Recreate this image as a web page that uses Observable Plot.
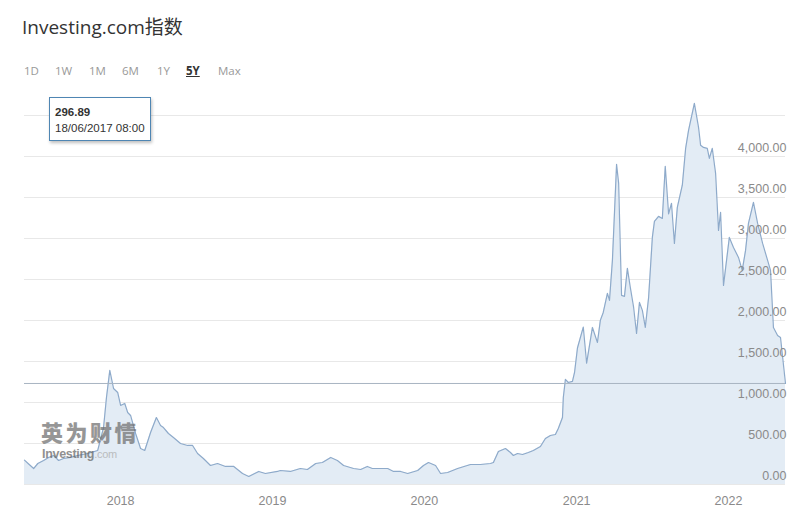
<!DOCTYPE html>
<html>
<head>
<meta charset="utf-8">
<script src="https://cdn.jsdelivr.net/npm/d3@7"></script>
<script src="https://cdn.jsdelivr.net/npm/@observablehq/plot@0.6"></script>
<style>
  html, body { margin: 0; padding: 0; background: #fff; width: 800px; height: 530px; overflow: hidden; }
  #wrap { position: relative; width: 800px; height: 530px; font-family: "Liberation Sans", Arial, sans-serif; }
  #title { position: absolute; left: 22px; top: 12px; font-family: "Open Sans", "Noto Sans CJK SC", sans-serif; font-size: 19px; color: #333; }
  #ranges { position: absolute; left: 24px; top: 63px; font-family: "Open Sans", sans-serif; font-size: 11.5px; color: #999; }
  #ranges span { position: absolute; white-space: nowrap; }
  #ranges span.on { color: #333; font-weight: 700; text-decoration: underline; }
  #chart { position: absolute; left: 0; top: 90px; }
  #tip { position: absolute; left: 49px; top: 97px; width: 102px; height: 44px; border: 1px solid #4f86b3; background: #fff; box-shadow: 1px 2px 3px rgba(0,0,0,0.25); font-size: 11.5px; color: #333; box-sizing: border-box; padding: 6px 0 0 5px; line-height: 16px; }
  #tip b { font-weight: 700; }
  #wm { position: absolute; left: 41px; top: 0; opacity: 0.72; pointer-events: none; }
  #wm .cn { position: absolute; left: 0; top: 420px; white-space: nowrap; font-family: "Noto Sans CJK SC", sans-serif; font-weight: 900; font-size: 22px; color: #6f6f6f; letter-spacing: 2.5px; line-height: 22px; }
  #wm .en { position: absolute; left: 1px; top: 448px; white-space: nowrap; font-family: "Liberation Sans", Arial, sans-serif; font-weight: 700; font-size: 12.5px; color: #666; line-height: 13px; letter-spacing: -0.3px; }
  #wm .en span { color: #aaa; font-weight: 400; font-size: 11px; }
</style>
</head>
<body>
<div id="wrap">
  <div id="title">Investing.com指数</div>
  <div id="ranges"></div>
  <div id="chart"></div>
  <div id="wm"><div class="cn">英为财情</div><div class="en">Investing<span>.com</span></div></div>
  <div id="tip"><b>296.89</b><br>18/06/2017 08:00</div>
</div>
<script>
// ---- data ----
const dates = [
  "2017-05-15","2017-05-25","2017-06-06","2017-06-16","2017-06-30","2017-07-12","2017-07-24","2017-08-05","2017-08-17","2017-09-03",
  "2017-09-20","2017-10-14","2017-11-07","2017-11-21","2017-11-28","2017-12-06","2017-12-15","2017-12-25","2018-01-01","2018-01-11",
  "2018-01-18","2018-01-25","2018-02-06","2018-02-18","2018-02-28","2018-03-14","2018-03-28","2018-04-07","2018-04-14","2018-04-26",
  "2018-05-08","2018-05-25","2018-06-11","2018-06-23","2018-07-05","2018-07-19","2018-08-05","2018-08-22","2018-09-10","2018-09-30",
  "2018-10-21","2018-11-05","2018-11-29","2018-12-15","2019-01-13","2019-01-20","2019-02-13","2019-03-09","2019-03-26","2019-04-15",
  "2019-05-01","2019-05-21","2019-06-06","2019-06-21","2019-07-15","2019-08-01","2019-08-17","2019-08-29","2019-09-18","2019-10-05",
  "2019-10-19","2019-11-05","2019-11-22","2019-12-16","2019-12-30","2020-01-11","2020-01-28","2020-02-09","2020-02-26","2020-03-21",
  "2020-04-21","2020-05-15","2020-06-08","2020-06-15","2020-06-27","2020-07-14","2020-07-26","2020-08-02","2020-08-12","2020-08-24",
  "2020-09-07","2020-09-19","2020-10-06","2020-10-18","2020-10-30","2020-11-11","2020-11-18","2020-11-28","2020-11-30","2020-12-05",
  "2020-12-12","2020-12-22","2020-12-27","2021-01-03","2021-01-17","2021-01-25","2021-02-08","2021-02-20","2021-02-27","2021-03-06",
  "2021-03-16","2021-03-21","2021-03-28","2021-04-07","2021-04-12","2021-04-19","2021-04-26","2021-05-03","2021-05-10","2021-05-18",
  "2021-05-25","2021-06-01","2021-06-08","2021-06-15","2021-06-23","2021-07-02","2021-07-07","2021-07-17","2021-07-26","2021-08-02",
  "2021-08-10","2021-08-17","2021-08-24","2021-08-31","2021-09-12","2021-09-20","2021-09-27","2021-10-11","2021-10-21","2021-10-26",
  "2021-11-02","2021-11-11","2021-11-16","2021-11-23","2021-12-01","2021-12-08","2021-12-13","2021-12-20","2022-01-03","2022-01-13",
  "2022-01-25","2022-02-03","2022-02-11","2022-02-18","2022-03-02","2022-03-12","2022-03-24","2022-04-05","2022-04-12","2022-04-19",
  "2022-04-29","2022-05-06","2022-05-18"
];
const values = [
  297, 250, 195, 256, 293, 330, 354, 293, 317, 330,
  354, 378, 415, 695, 1061, 1391, 1171, 1122, 964, 988,
  878, 842, 622, 439, 415, 634, 817, 720, 695, 622,
  573, 500, 476, 476, 378, 317, 232, 256, 220, 220,
  134, 98, 159, 134, 159, 171, 159, 195, 183, 256,
  268, 330, 293, 232, 195, 183, 220, 195, 195, 195,
  159, 159, 134, 171, 232, 268, 232, 134, 146, 195,
  244, 244, 256, 268, 403, 439, 390, 354, 378, 366,
  390, 415, 464, 561, 598, 610, 683, 817, 1061, 1281,
  1244, 1257, 1366, 1665, 1920, 1480, 1915, 1732, 2001, 2098,
  2330, 2245, 2733, 3904, 3672, 2306, 2294, 2635, 2403, 2159,
  1842, 2220, 2123, 1915, 2281, 3013, 3208, 3270, 3245, 3880,
  3300, 3428, 2940, 3380, 3650, 4100, 4319, 4648, 4355, 4136,
  4111, 4099, 3977, 4099, 3794, 3099, 3318, 2428, 3013, 2891,
  2769, 2611, 2855, 3184, 3440, 3184, 2940, 2733, 2611, 1915,
  1818, 1793, 1232
];
const yTicks = [0, 500, 1000, 1500, 2000, 2500, 3000, 3500, 4000];
const gridValues = [0, 500, 1000, 1500, 2000, 2500, 3000, 3500, 4000, 4500];
const xTickYears = ["2018-01-01", "2019-01-01", "2020-01-01", "2021-01-01", "2022-01-01"];
const rangeLabels = ["1D", "1W", "1M", "6M", "1Y", "5Y", "Max"];
const activeRange = "5Y";
const lastValue = values[values.length - 1];

// ---- range buttons ----
const rangeX = [0, 31, 65, 98, 133, 162, 194];
const rb = document.getElementById("ranges");
rangeLabels.forEach((r, i) => {
  const s = document.createElement("span");
  s.textContent = r;
  s.style.left = rangeX[i] + "px";
  if (r === activeRange) s.className = "on";
  rb.appendChild(s);
});

// ---- chart ----
const parse = d3.utcParse("%Y-%m-%d");
const data = dates.map((d, i) => ({date: parse(d), value: values[i]}));
const fmt = d3.format(",.2f");

const chart = Plot.plot({
  width: 800,
  height: 440,
  marginLeft: 24,
  marginRight: 15,
  marginTop: 25,
  marginBottom: 46,
  style: {fontFamily: "'Liberation Sans', Arial, sans-serif", fontSize: "12.5px", background: "transparent", overflow: "visible"},
  x: {type: "utc", domain: [parse(dates[0]), parse(dates[dates.length - 1])], label: null},
  y: {domain: [0, 4500], label: null},
  marks: [
    Plot.ruleY(gridValues, {stroke: "#e8e8e8", strokeWidth: 1}),
    Plot.areaY(data, {x: "date", y: "value", fill: "#e3ecf5", fillOpacity: 1}),
    Plot.lineY(data, {x: "date", y: "value", stroke: "#8eaaca", strokeWidth: 1.2}),
    Plot.ruleY([lastValue], {stroke: "#a8b4c2", strokeWidth: 1}),
    Plot.axisY(yTicks, {anchor: "right", tickSize: 0, textAnchor: "end", dx: -8, dy: -9, tickFormat: fmt, fill: "#8a8a8a", fontSize: 12.5, label: null}),
    Plot.axisX(xTickYears.map(parse), {tickSize: 0, tickPadding: 12, tickFormat: d3.utcFormat("%Y"), fill: "#8a8a8a", fontSize: 12.5, label: null})
  ]
});
document.getElementById("chart").appendChild(chart);
</script>
</body>
</html>
